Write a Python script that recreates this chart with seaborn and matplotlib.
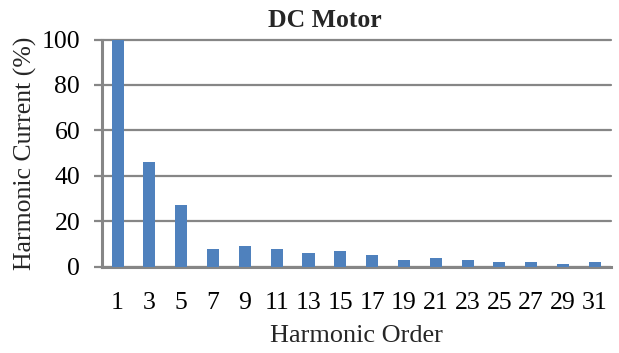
import matplotlib
matplotlib.use("Agg")
import matplotlib.pyplot as plt
import seaborn as sns
import pandas as pd

# Harmonic spectrum of a DC motor drive current
orders = [1, 3, 5, 7, 9, 11, 13, 15, 17, 19, 21, 23, 25, 27, 29, 31]
current_pct = [100, 46, 27, 8, 9, 8, 6, 7, 5, 3, 4, 3, 2, 2, 1, 2]
y_ticks = [0, 20, 40, 60, 80, 100]

df = pd.DataFrame({"order": [str(o) for o in orders], "current": current_pct})

sns.set_theme(style="white")
plt.rcParams["font.family"] = ["Liberation Serif", "DejaVu Serif"]

fig = plt.figure(figsize=(6.19, 3.53), dpi=100)
ax = fig.add_axes([0.1643, 0.2445, 0.8223, 0.6436])

sns.barplot(data=df, x="order", y="current", color="#4F81BD", saturation=1,
            width=0.38, linewidth=0, edgecolor="none", ax=ax, zorder=3)

grid_col = "#868686"
ax.set_ylim(0, 100)
ax.set_xlim(-0.5, len(orders) - 0.5)
ax.set_yticks(y_ticks)
ax.yaxis.grid(True, color=grid_col, linewidth=1.6, zorder=0)
ax.set_axisbelow(True)
for t in ax.yaxis.get_major_ticks():
    t.gridline.set_clip_on(False)

for side in ["top", "right"]:
    ax.spines[side].set_visible(False)
ax.spines["left"].set_color(grid_col)
ax.spines["left"].set_linewidth(2.2)
ax.spines["bottom"].set_color(grid_col)
ax.spines["bottom"].set_linewidth(2.2)

ax.tick_params(axis="y", which="both", left=True, length=5.5, width=1.6,
               color=grid_col, pad=10, labelsize=18.5, labelcolor="black")
ax.tick_params(axis="x", which="both", bottom=False, pad=12, labelsize=18.5,
               labelcolor="black")

ax.set_title("DC Motor", fontsize=18.5, fontweight="bold", pad=9,
             x=(325 - 101.7) / 509)
ax.set_xlabel("Harmonic Order", fontsize=18.9, labelpad=8)
ax.set_ylabel("Harmonic Current (%)", fontsize=18.5, labelpad=3)

fig.savefig("out.png", dpi=100, facecolor="white")
